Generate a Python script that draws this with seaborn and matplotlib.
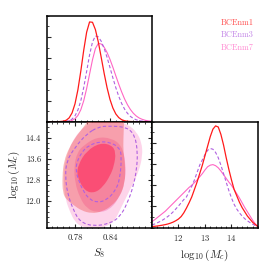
import matplotlib
matplotlib.use('Agg')

import numpy as np
import seaborn as sns
import matplotlib.pyplot as plt
from matplotlib.path import Path
from matplotlib.patches import PathPatch
from matplotlib.ticker import FixedLocator, AutoMinorLocator, FormatStrFormatter, NullFormatter

# --- data ---
chains = ["BCEnm1", "BCEnm3", "BCEnm7"]

# 1D marginal of S8 (normalised to the panel height)
s8_grid = [0.735, 0.740, 0.745, 0.750, 0.755, 0.760, 0.765, 0.770, 0.775, 0.780,
           0.785, 0.790, 0.795, 0.800, 0.805, 0.810, 0.815, 0.820, 0.825, 0.830,
           0.835, 0.840, 0.845, 0.850, 0.855, 0.860, 0.865, 0.870, 0.875, 0.880,
           0.885, 0.890, 0.895, 0.900, 0.905, 0.910]
s8_nm1 = [0.000, 0.000, 0.000, 0.000, 0.002, 0.005, 0.014, 0.036, 0.083, 0.168,
          0.301, 0.478, 0.675, 0.845, 0.941, 0.938, 0.869, 0.752, 0.606, 0.456,
          0.321, 0.210, 0.129, 0.073, 0.039, 0.019, 0.009, 0.004, 0.002, 0.001,
          0.000, 0.000, 0.000, 0.000, 0.000, 0.000]
s8_nm3 = [0.000, 0.000, 0.000, 0.000, 0.000, 0.001, 0.004, 0.010, 0.025, 0.055,
          0.110, 0.198, 0.323, 0.475, 0.630, 0.752, 0.809, 0.800, 0.759, 0.692,
          0.607, 0.511, 0.413, 0.321, 0.240, 0.172, 0.119, 0.079, 0.050, 0.031,
          0.018, 0.010, 0.006, 0.003, 0.002, 0.001]
s8_nm7 = [0.000, 0.000, 0.000, 0.000, 0.000, 0.001, 0.002, 0.005, 0.012, 0.028,
          0.059, 0.113, 0.198, 0.313, 0.449, 0.584, 0.690, 0.739, 0.733, 0.703,
          0.653, 0.588, 0.513, 0.433, 0.354, 0.281, 0.215, 0.160, 0.115, 0.080,
          0.054, 0.035, 0.023, 0.014, 0.008, 0.005]

# 1D marginal of log10(Mc)
mc_grid = [11.0, 11.1, 11.2, 11.3, 11.4, 11.5, 11.6, 11.7, 11.8, 11.9,
           12.0, 12.1, 12.2, 12.3, 12.4, 12.5, 12.6, 12.7, 12.8, 12.9,
           13.0, 13.1, 13.2, 13.3, 13.4, 13.5, 13.6, 13.7, 13.8, 13.9,
           14.0, 14.1, 14.2, 14.3, 14.4, 14.5, 14.6, 14.7, 14.8, 14.9, 15.0]
mc_nm1 = [0.010, 0.013, 0.016, 0.020, 0.024, 0.029, 0.035, 0.043, 0.053, 0.066,
          0.082, 0.105, 0.140, 0.185, 0.235, 0.290, 0.360, 0.430, 0.510, 0.590,
          0.680, 0.770, 0.860, 0.930, 0.960, 0.950, 0.880, 0.780, 0.660, 0.550,
          0.450, 0.360, 0.300, 0.240, 0.190, 0.150, 0.110, 0.080, 0.050, 0.030, 0.010]
mc_nm3 = [0.026, 0.035, 0.046, 0.058, 0.072, 0.088, 0.106, 0.126, 0.150, 0.177,
          0.205, 0.235, 0.265, 0.290, 0.340, 0.390, 0.450, 0.520, 0.590, 0.640,
          0.690, 0.730, 0.747, 0.740, 0.710, 0.660, 0.590, 0.510, 0.430, 0.350,
          0.280, 0.220, 0.175, 0.140, 0.110, 0.085, 0.065, 0.048, 0.033, 0.020, 0.010]
mc_nm7 = [0.057, 0.075, 0.095, 0.115, 0.135, 0.155, 0.180, 0.205, 0.230, 0.255,
          0.280, 0.305, 0.330, 0.355, 0.380, 0.400, 0.425, 0.450, 0.480, 0.510,
          0.545, 0.575, 0.590, 0.595, 0.585, 0.565, 0.535, 0.500, 0.465, 0.430,
          0.400, 0.360, 0.320, 0.280, 0.235, 0.190, 0.150, 0.110, 0.070, 0.035, 0.005]

# 2D contours (S8, log10 Mc), outline points
nm7_out_s8 = [0.8286, 0.8514, 0.8714, 0.8857, 0.8943, 0.8960, 0.8886, 0.8771, 0.8657, 0.8571,
              0.8486, 0.8343, 0.8114, 0.7914, 0.7800, 0.7714, 0.7640, 0.7610, 0.7610, 0.7660,
              0.7743, 0.7886, 0.8057]
nm7_out_mc = [15.05, 15.02, 14.89, 14.61, 14.22, 13.71, 13.07, 12.56, 12.05, 11.67,
              11.28, 11.03, 10.96, 11.03, 11.22, 11.60, 12.05, 12.56, 13.20, 13.71,
              14.22, 14.67, 14.96]
nm7_in_s8 = [0.7943, 0.8171, 0.8429, 0.8600, 0.8674, 0.8657, 0.8543, 0.8371, 0.8171, 0.8000,
             0.7886, 0.7800, 0.7783, 0.7840]
nm7_in_mc = [14.10, 14.42, 14.38, 14.10, 13.46, 12.69, 12.05, 11.64, 11.57, 11.73,
             12.12, 12.69, 13.33, 13.84]
nm1_out_s8 = [0.7589, 0.7583, 0.7611, 0.7703, 0.7829, 0.7971, 0.8086, 0.8640, 0.8640, 0.8629,
              0.8629, 0.8663, 0.8657, 0.8571, 0.8429, 0.8257, 0.8086, 0.7914, 0.7771, 0.7657]
nm1_out_mc = [12.31, 12.95, 13.52, 14.03, 14.48, 14.86, 15.25, 15.25, 14.86, 14.35,
              13.84, 13.33, 12.69, 12.18, 11.82, 11.60, 11.54, 11.64, 11.86, 12.05]
nm1_in_s8 = [0.7829, 0.7857, 0.8000, 0.8229, 0.8429, 0.8503, 0.8469, 0.8400, 0.8286, 0.8143,
             0.7971]
nm1_in_mc = [12.95, 13.39, 13.90, 14.20, 14.12, 13.84, 13.33, 12.95, 12.56, 12.31,
             12.37]
nm3_out_s8 = [0.8200, 0.8371, 0.8686, 0.8829, 0.8874, 0.8857, 0.8800, 0.8697, 0.8571, 0.8400,
              0.8114, 0.7886, 0.7771, 0.7669, 0.7634, 0.7657, 0.7800, 0.8000]
nm3_out_mc = [14.80, 14.84, 14.80, 14.48, 13.84, 13.20, 12.56, 11.92, 11.41, 11.16,
              11.05, 11.22, 11.67, 12.31, 12.95, 13.52, 14.03, 14.54]
nm3_in_s8 = [0.7829, 0.7914, 0.8029, 0.8229, 0.8400, 0.8560, 0.8600, 0.8571, 0.8486, 0.8343,
             0.8200, 0.8057, 0.7943, 0.7857, 0.7817]
nm3_in_mc = [13.46, 13.84, 14.10, 14.25, 14.22, 14.03, 13.71, 12.82, 12.37, 12.05,
             11.95, 12.05, 12.37, 12.82, 13.14]

col_nm1 = "#ff1a1a"
col_nm3 = "#b060e0"
col_nm7 = "#ff66c4"

sns.set_style("ticks")
plt.rcParams.update({
    "font.family": ["cmr10", "DejaVu Serif"],
    "mathtext.fontset": "cm",
    "axes.formatter.use_mathtext": True,
    "axes.linewidth": 1.1,
    "xtick.direction": "in",
    "ytick.direction": "in",
    "xtick.major.size": 2.6,
    "ytick.major.size": 2.6,
    "xtick.minor.size": 1.4,
    "ytick.minor.size": 1.4,
    "xtick.major.width": 0.8,
    "ytick.major.width": 0.8,
    "xtick.minor.width": 0.6,
    "ytick.minor.width": 0.6,
    "xtick.labelsize": 6.3,
    "ytick.labelsize": 6.3,
})


def smooth_patch(ax, xs, ys, **kw):
    pts = np.column_stack([xs, ys])
    mids = (pts + np.roll(pts, -1, axis=0)) / 2
    verts = [mids[-1]]
    codes = [Path.MOVETO]
    for i in range(len(pts)):
        verts += [pts[i], mids[i]]
        codes += [Path.CURVE3, Path.CURVE3]
    ax.add_patch(PathPatch(Path(verts, codes), **kw))


fig = plt.figure(figsize=(2.74, 2.74), dpi=100)
ax_top = fig.add_axes([0.1704, 0.5558, 0.3843, 0.3869])
ax_2d = fig.add_axes([0.1704, 0.1690, 0.3843, 0.3869])
ax_mc = fig.add_axes([0.5547, 0.1690, 0.3869, 0.3869])

s8_lim = (0.7315, 0.912)
mc_lim = (11.0, 15.0)

# S8 marginal
sns.lineplot(x=s8_grid, y=s8_nm7, ax=ax_top, color=col_nm7, lw=0.8)
sns.lineplot(x=s8_grid, y=s8_nm3, ax=ax_top, color=col_nm3, lw=0.8, linestyle=(0, (3, 2)))
sns.lineplot(x=s8_grid, y=s8_nm1, ax=ax_top, color=col_nm1, lw=0.9)
ax_top.set_xlim(*s8_lim)
ax_top.set_ylim(0, 1.0)

# log10 Mc marginal
sns.lineplot(x=mc_grid, y=mc_nm7, ax=ax_mc, color=col_nm7, lw=0.8)
sns.lineplot(x=mc_grid, y=mc_nm3, ax=ax_mc, color=col_nm3, lw=0.8, linestyle=(0, (3, 2)))
sns.lineplot(x=mc_grid, y=mc_nm1, ax=ax_mc, color=col_nm1, lw=0.9)
ax_mc.set_xlim(*mc_lim)
ax_mc.set_ylim(0, 1.0)

# 2D contours
smooth_patch(ax_2d, nm7_out_s8, nm7_out_mc, facecolor="#fdd4ea", edgecolor="none", zorder=1)
smooth_patch(ax_2d, nm7_in_s8, nm7_in_mc, facecolor="#f9a8d2", edgecolor="none", zorder=2)
smooth_patch(ax_2d, nm1_out_s8, nm1_out_mc, facecolor="#f05050", alpha=0.4, edgecolor="none", zorder=3)
smooth_patch(ax_2d, nm1_in_s8, nm1_in_mc, facecolor="#ff2a5a", alpha=0.6, edgecolor="none", zorder=4)
for xs, ys in [(nm3_out_s8, nm3_out_mc), (nm3_in_s8, nm3_in_mc)]:
    smooth_patch(ax_2d, xs, ys, facecolor="none", edgecolor=col_nm3, lw=0.8,
                 linestyle=(0, (3, 2)), zorder=5)
ax_2d.set_xlim(*s8_lim)
ax_2d.set_ylim(*mc_lim)

# ticks
for ax in (ax_top, ax_2d):
    ax.xaxis.set_major_locator(FixedLocator([0.78, 0.84]))
    ax.xaxis.set_minor_locator(AutoMinorLocator(6))
    ax.xaxis.set_major_formatter(FormatStrFormatter("%.2f"))
ax_2d.yaxis.set_major_locator(FixedLocator([12.0, 12.8, 13.6, 14.4]))
ax_2d.yaxis.set_minor_locator(AutoMinorLocator(4))
ax_2d.yaxis.set_major_formatter(FormatStrFormatter("%.1f"))
ax_mc.xaxis.set_major_locator(FixedLocator([12, 13, 14]))
ax_mc.xaxis.set_minor_locator(AutoMinorLocator(5))
for ax in (ax_top, ax_mc):
    ax.yaxis.set_major_locator(FixedLocator([0.2, 0.4, 0.6, 0.8]))
    ax.yaxis.set_minor_locator(AutoMinorLocator(2))
    ax.yaxis.set_major_formatter(NullFormatter())
ax_top.xaxis.set_major_formatter(NullFormatter())
ax_2d.tick_params(which="both", top=True, right=True)
for ax in (ax_top, ax_2d, ax_mc):
    ax.tick_params(axis="both", which="major", pad=4)
    for sp in ax.spines.values():
        sp.set_color("black")

ax_2d.set_xlabel(r"$S_8$", fontsize=8, labelpad=3)
ax_2d.set_ylabel(r"$\log_{10}(M_c)$", fontsize=8, labelpad=3)
ax_mc.set_xlabel(r"$\log_{10}(M_c)$", fontsize=8, labelpad=3)
ax_top.set_xlabel("")
ax_top.set_ylabel("")
ax_mc.set_ylabel("")

# legend text
for name, col, yy in zip(chains, [col_nm1, col_nm3, col_nm7], [0.915, 0.873, 0.826]):
    fig.text(0.807, yy, name, color=col, alpha=0.75, fontsize=6, ha="left", va="center")

fig.savefig("out.png", dpi=100)
plt.close(fig)
